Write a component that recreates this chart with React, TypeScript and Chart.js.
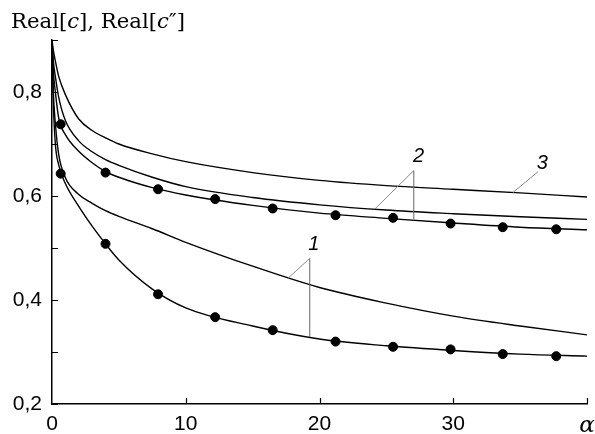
import React, { useEffect, useRef } from "react";
import { Chart, registerables } from "chart.js";

Chart.register(...registerables);

// Curve sample abscissae (α)
const X_LINE = [0, 0.1, 0.25, 0.5, 1, 2, 3, 4, 5, 7.5, 10, 15, 20, 25, 30, 35, 40];
// Curve 3
const CURVE_3 = [0.9, 0.88, 0.86, 0.83, 0.795, 0.748, 0.726, 0.712, 0.7, 0.681, 0.666, 0.645, 0.63, 0.62, 0.613, 0.606, 0.598];
// Curves 2 (upper: no markers, lower: through markers)
const CURVE_2A = [0.9, 0.86, 0.83, 0.79, 0.745, 0.706, 0.685, 0.67, 0.659, 0.636, 0.618, 0.597, 0.583, 0.573, 0.566, 0.56, 0.555];
const CURVE_2B = [0.9, 0.84, 0.8, 0.75, 0.718, 0.686, 0.664, 0.647, 0.636, 0.616, 0.602, 0.582, 0.567, 0.557, 0.548, 0.54, 0.535];
// Curves 1
const CURVE_1A = [0.9, 0.8, 0.74, 0.68, 0.635, 0.603, 0.586, 0.572, 0.561, 0.537, 0.511, 0.465, 0.424, 0.394, 0.369, 0.35, 0.333];
const CURVE_1B = [0.9, 0.78, 0.7, 0.66, 0.624, 0.58, 0.542, 0.508, 0.477, 0.421, 0.385, 0.35, 0.325, 0.312, 0.303, 0.296, 0.292];

// Marker points
const DOT_X = [0.65, 4.0, 7.93, 12.2, 16.5, 21.2, 25.5, 29.8, 33.7, 37.7];
const DOT_1 = [0.643, 0.508, 0.411, 0.367, 0.342, 0.32, 0.31, 0.305, 0.296, 0.292];
const DOT_2 = [0.738, 0.645, 0.613, 0.594, 0.576, 0.563, 0.558, 0.547, 0.54, 0.536];

// Axis ticks
const X_TICKS = [0, 10, 20, 30, 40];
const Y_LABELLED = [0.2, 0.4, 0.6, 0.8];

// Curve labels and their leader lines (data coordinates)
const CURVE_LABELS = [
  { text: "1", x: 19.57, y: 0.507, apex: [19.27, 0.48], ends: [[17.65, 0.442], [19.27, 0.329]] },
  { text: "2", x: 27.4, y: 0.676, apex: [27.05, 0.649], ends: [[24.14, 0.575], [27.05, 0.555]] },
  { text: "3", x: 36.65, y: 0.663, apex: [36.35, 0.647], ends: [[34.48, 0.607]] },
];

const pts = (xs: number[], ys: number[]) => xs.map((x, i) => ({ x, y: ys[i] }));

const lineDs = (ys: number[]) => ({
  type: "line" as const,
  data: pts(X_LINE, ys),
  borderColor: "#000",
  borderWidth: 1.4,
  pointRadius: 0,
  cubicInterpolationMode: "monotone" as const,
  fill: false,
});

const dotDs = (ys: number[]) => ({
  type: "scatter" as const,
  data: pts(DOT_X, ys),
  backgroundColor: "#000",
  borderColor: "#000",
  pointRadius: 4.5,
  showLine: false,
});

const decorPlugin = {
  id: "decor",
  afterDraw(chart: any) {
    const ctx = chart.ctx;
    const xs = chart.scales.x;
    const ys = chart.scales.y;
    const area = chart.chartArea;
    ctx.save();
    // inner tick marks
    ctx.strokeStyle = "#000";
    ctx.lineWidth = 1.2;
    ctx.beginPath();
    ys.ticks.forEach((t: any) => {
      const py = Math.round(ys.getPixelForValue(t.value)) + 0.5;
      ctx.moveTo(area.left, py);
      ctx.lineTo(area.left + 6, py);
    });
    xs.ticks.forEach((t: any) => {
      if (t.value === 0) return;
      const px = Math.round(xs.getPixelForValue(t.value)) + 0.5;
      ctx.moveTo(px, area.bottom);
      ctx.lineTo(px, area.bottom - 6);
    });
    ctx.stroke();

    // leader lines
    CURVE_LABELS.forEach((l) => {
      const ax = xs.getPixelForValue(l.apex[0]);
      const ay = ys.getPixelForValue(l.apex[1]);
      l.ends.forEach((e, i) => {
        ctx.beginPath();
        ctx.strokeStyle = i === 0 ? "#8a8a8a" : "#666";
        ctx.lineWidth = 1;
        ctx.moveTo(ax, ay);
        ctx.lineTo(xs.getPixelForValue(e[0]), ys.getPixelForValue(e[1]));
        ctx.stroke();
      });
      ctx.fillStyle = "#000";
      ctx.font = "italic 20px 'Liberation Sans', Arial, sans-serif";
      ctx.textAlign = "center";
      ctx.textBaseline = "middle";
      ctx.fillText(l.text, xs.getPixelForValue(l.x), ys.getPixelForValue(l.y));
    });

    // axis title: Real[c], Real[c″]
    const parts: [string, boolean][] = [
      ["Real[", false],
      ["c", true],
      ["], Real[", false],
      ["c", true],
      ["\u2033]", false],
    ];
    const roman = "21px 'DejaVu Serif', 'Liberation Serif', serif";
    const ital = "italic 21px 'DejaVu Serif', 'Liberation Serif', serif";
    let total = 0;
    parts.forEach(([s, it]) => {
      ctx.font = it ? ital : roman;
      total += ctx.measureText(s).width;
    });
    const target = 174;
    const sx = target / total;
    ctx.translate(11, 28);
    ctx.scale(sx, 1);
    ctx.textAlign = "left";
    ctx.textBaseline = "alphabetic";
    ctx.fillStyle = "#000";
    let cx = 0;
    parts.forEach(([s, it]) => {
      ctx.font = it ? ital : roman;
      ctx.fillText(s, cx, 0);
      cx += ctx.measureText(s).width;
    });
    ctx.restore();
  },
};

export default function App() {
  const ref = useRef<HTMLCanvasElement | null>(null);
  useEffect(() => {
    if (!ref.current) return;
    const chart = new Chart(ref.current, {
      type: "line",
      data: {
        datasets: [
          lineDs(CURVE_3),
          lineDs(CURVE_2A),
          lineDs(CURVE_2B),
          lineDs(CURVE_1A),
          lineDs(CURVE_1B),
          dotDs(DOT_2),
          dotDs(DOT_1),
        ] as any,
      },
      options: {
        responsive: false,
        animation: false,
        events: [],
        layout: { padding: { top: 40, right: 8, left: 0, bottom: 0 } },
        plugins: { legend: { display: false }, tooltip: { enabled: false } },
        scales: {
          x: {
            type: "linear",
            min: 0,
            max: 40,
            afterBuildTicks: (s: any) => {
              s.ticks = X_TICKS.map((v) => ({ value: v }));
            },
            afterFit: (s: any) => {
              s.height = 30;
              s.paddingRight = 0;
              s.paddingLeft = 0;
            },
            grid: { drawOnChartArea: false, drawTicks: false },
            border: { display: true, color: "#000", width: 1.5 },
            ticks: {
              padding: 8,
              color: "#000",
              maxRotation: 0,
              autoSkip: false,
              font: (c: any) =>
                c.tick && c.tick.value === 40
                  ? { family: "'DejaVu Serif', serif", style: "italic", size: 23 }
                  : { family: "'Liberation Sans', Arial, sans-serif", size: 21 },
              callback: (v: any) => (v === 40 ? "\u03b1" : String(v)),
            },
          },
          y: {
            type: "linear",
            min: 0.2,
            max: 0.9,
            afterBuildTicks: (s: any) => {
              const t = [];
              for (let i = 2; i <= 9; i++) t.push({ value: i / 10 });
              s.ticks = t;
            },
            afterFit: (s: any) => {
              s.width = 52;
              s.paddingTop = 0;
              s.paddingBottom = 0;
            },
            grid: { drawOnChartArea: false, drawTicks: false },
            border: { display: true, color: "#000", width: 1.5 },
            ticks: {
              padding: 10,
              color: "#000",
              autoSkip: false,
              font: { family: "'Liberation Sans', Arial, sans-serif", size: 21 },
              callback: (v: any) => {
                const n = Math.round(Number(v) * 10) / 10;
                return Y_LABELLED.some((q) => Math.abs(q - n) < 1e-6)
                  ? n.toFixed(1).replace(".", ",")
                  : "";
              },
            },
          },
        },
      },
      plugins: [decorPlugin],
    });
    return () => chart.destroy();
  }, []);
  return (
    <div style={{ position: "fixed", left: 0, top: 0, width: 595, height: 434, background: "#fff" }}>
      <canvas ref={ref} width={595} height={434} />
    </div>
  );
}
